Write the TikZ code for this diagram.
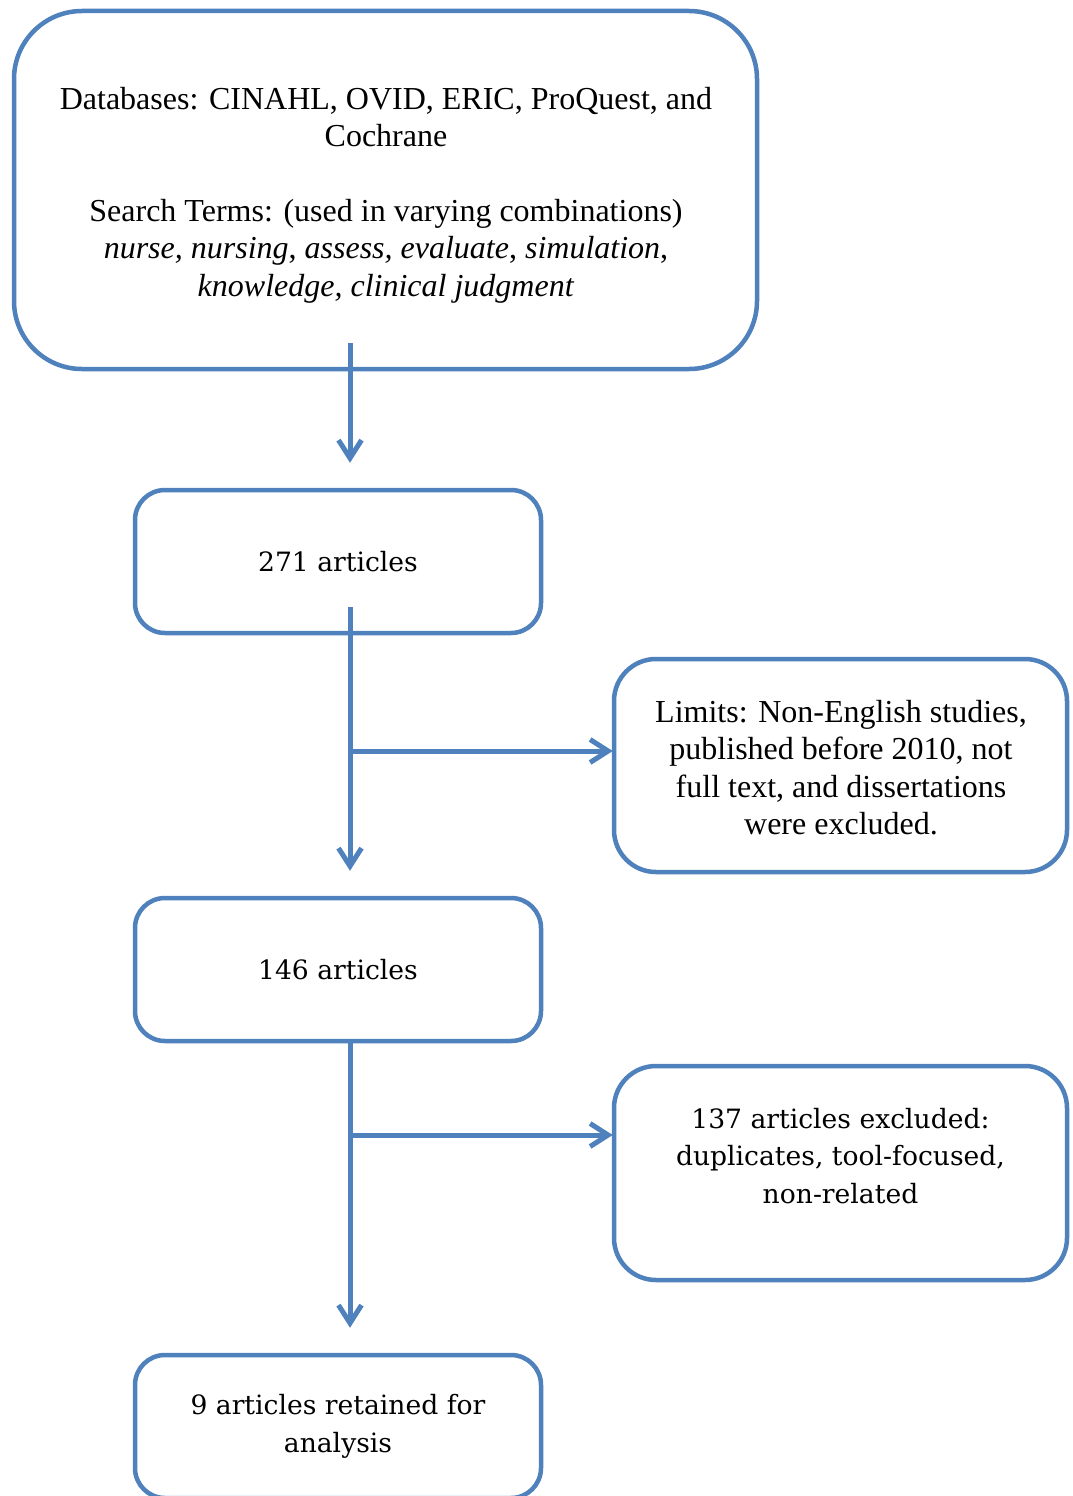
\documentclass[tikz,border=0pt]{standalone}
\usepackage{fontspec}
\setmainfont{Liberation Serif}
\newfontfamily\camfont{DejaVu Serif}
\usetikzlibrary{arrows.meta,calc}
\definecolor{wblue}{HTML}{4F81BD}
\tikzset{
  box/.style={draw=wblue, line width=4.5pt, rectangle, inner sep=0pt, align=center, fill=white},
  times/.style={font=\fontsize{32}{37.4}\selectfont},
  cam/.style={font=\camfont\fontsize{26.6}{37.8}\selectfont},
  arr/.style={draw=wblue, line width=5pt, -{Straight Barb[length=18pt,width=23pt]}},
}
\begin{document}
\begin{tikzpicture}[x=1pt,y=-1pt]
\clip (0,0) rectangle (1073,1496);
\fill[white] (0,0) rectangle (1073,1496);
% boxes
\node[box, rounded corners=68pt, minimum width=743pt, minimum height=358pt] (db) at (385.5,190) {};
\node[times, align=center, inner sep=0pt] (dbtxt) at (386,195)
  {Databases: CINAHL, OVID, ERIC, ProQuest, and\\Cochrane\\[37.4pt]
   Search Terms: (used in varying combinations)\\
   \textit{nurse, nursing}, \textit{assess, evaluate}, \textit{simulation},\\
   \textit{knowledge, clinical judgment}};
\node[box, cam, rounded corners=30pt, minimum width=406pt, minimum height=143pt] (n271) at (338,561.5) {271 articles};
\node[box, times, rounded corners=42pt, minimum width=453pt, minimum height=213pt] (lim) at (840.5,765.5) {};
\node[times, align=center, inner sep=0pt] (limtxt) at (841,767.5)
  {Limits: Non-English studies,\\published before 2010, not\\full text, and dissertations\\were excluded.};
\node[box, cam, rounded corners=30pt, minimum width=406pt, minimum height=143pt] (n146) at (338,969.5) {146 articles};
\node[box, cam, rounded corners=42pt, minimum width=453pt, minimum height=214pt] (excl) at (840.5,1173) {};
\node[cam, align=center, inner sep=0pt] (excltxt) at (840.5,1156) {137 articles excluded:\\duplicates, tool-focused,\\non-related};
\node[box, cam, rounded corners=30pt, minimum width=406pt, minimum height=143pt] (n9) at (338,1426.5) {9 articles retained for\\analysis};
% connectors
\coordinate (s1) at (350,343);
\coordinate (s2) at (350,607);
\coordinate (b1) at (350,751);
\coordinate (s3) at (350,1042);
\coordinate (b2) at (350,1135);
\draw[arr] (s1) -- ($(n271.north -| s1)+(0,-25)$);
\draw[arr] (s2) -- ($(n146.north -| s2)+(0,-25)$);
\draw[arr] (b1) -- ($(lim.west |- b1)+(1,0)$);
\draw[arr] (s3) -- ($(n9.north -| s3)+(0,-25)$);
\draw[arr] (b2) -- ($(excl.west |- b2)+(1,0)$);
\end{tikzpicture}
\end{document}
